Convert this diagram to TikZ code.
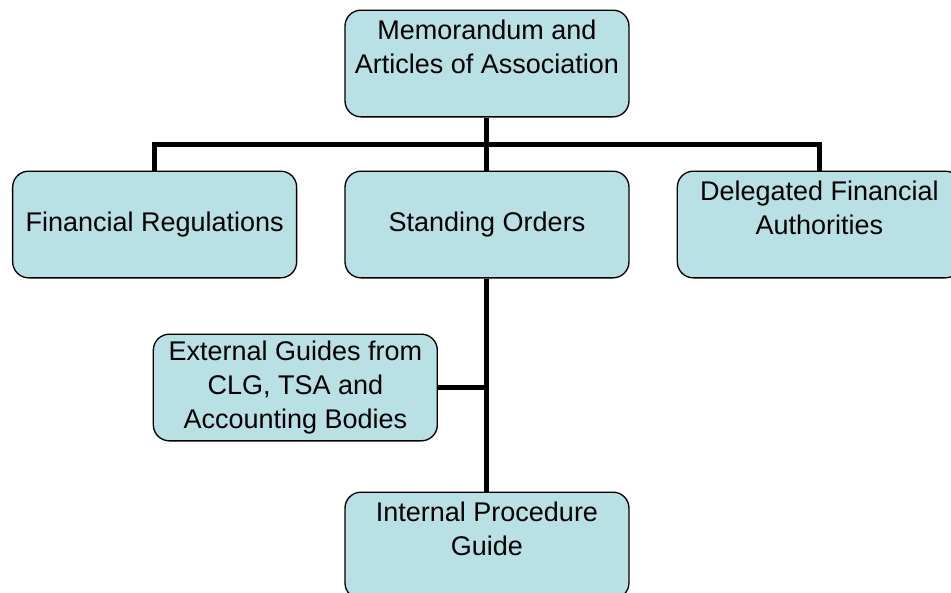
\documentclass[tikz,border=0pt]{standalone}
\usepackage{fontspec}
\setmainfont{Liberation Sans}
\usepackage{tikz}
\usetikzlibrary{positioning, calc}

\definecolor{boxfill}{RGB}{185,224,228}

\begin{document}
\begin{tikzpicture}[
    orgbox/.style={draw=black, line width=1pt, rectangle, rounded corners=12pt, fill=boxfill,
        minimum width=213pt, minimum height=80pt, align=center, inner sep=2pt,
        font=\fontsize{20.25pt}{25.5pt}\selectfont},
    edge/.style={line width=3.75pt}
]

% Rahmen
\useasboundingbox (-365.25pt,47.625pt) rectangle (348pt,-397.125pt);

% Knoten
\node[orgbox] (memo) at (0,0) {Memorandum and\\Articles of Association\\~};
\node[orgbox, below=39.75pt of memo] (standing) {Standing Orders};
\node[orgbox, left=35.25pt of standing] (finreg) {Financial Regulations};
\node[orgbox, right=35.25pt of standing] (deleg) {Delegated Financial\\Authorities\\~};
\node[orgbox, anchor=north east] (extguide) at ([xshift=-36.75pt, yshift=-41.25pt] standing.south) {External Guides from\\CLG, TSA and\\Accounting Bodies};
\node[orgbox, below=159.75pt of standing] (intguide) {Internal Procedure\\Guide\\~};
\coordinate (bus) at ([yshift=-20.25pt] memo.south);

% Kanten
\draw[edge] (memo.south) -- (bus);
\draw[edge] (bus) -| (finreg.north);
\draw[edge] (bus) -| (deleg.north);
\draw[edge] (bus) -- (standing.north);
\draw[edge] (standing.south) -- (intguide.north);
\draw[edge] (extguide.east) -- (extguide.east -| standing.south);

\end{tikzpicture}
\end{document}
